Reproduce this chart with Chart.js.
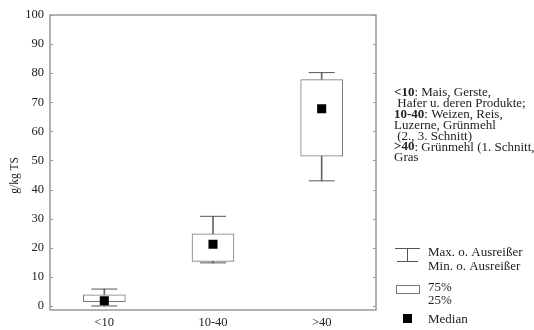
<!DOCTYPE html>
<html>
<head>
<meta charset="utf-8">
<script src="https://cdn.jsdelivr.net/npm/chart.js@4"></script>
<style>
  html, body { margin: 0; padding: 0; background: #fff; }
  #wrap { width: 534px; height: 330px; }
</style>
</head>
<body>
<div id="wrap"><canvas id="boxChart" width="534" height="330"></canvas></div>
<script>
// --- DATA ---
const categories = ['<10', '10-40', '>40'];
const minVals    = [0, 14.8, 43];
const q1Vals     = [1.5, 15.3, 51.5];
const medianVals = [1.8, 21.2, 67.8];
const q3Vals     = [3.8, 24.8, 77.8];
const maxVals    = [5.8, 30.8, 80.2];
const yTicks     = [0, 10, 20, 30, 40, 50, 60, 70, 80, 90, 100];

const noteLines = [
    [['<10', true], [': Mais, Gerste,', false]],
    [[' Hafer u. deren Produkte;', false]],
    [['10-40', true], [': Weizen, Reis,', false]],
    [['Luzerne, Grünmehl', false]],
    [[' (2., 3. Schnitt)', false]],
    [['>40', true], [': Grünmehl (1. Schnitt,', false]],
    [['Gras', false]]
];
const keyLabels = ['Max. o. Ausreißer', 'Min. o. Ausreißer', '75%', '25%', 'Median'];

const SERIF = '"Liberation Serif", "DejaVu Serif", serif';
const TXT = '#222';
const FRAME = '#999';
const LINE = '#777';
const STRETCH = 1.13; // the source text is a bit wide

// text drawn a little stretched, returns the width used
function wideText(ctx, t, x, y) {
    ctx.save();
    ctx.translate(x, y);
    ctx.scale(STRETCH, 1);
    ctx.fillText(t, 0, 0);
    const w = ctx.measureText(t).width * STRETCH;
    ctx.restore();
    return w;
}

// frame, inner ticks, notes and key
const decorPlugin = {
    id: 'decor',
    afterDraw(chart) {
        const ctx = chart.ctx;
        const a = chart.chartArea;
        const y = chart.scales.y;
        ctx.save();
        ctx.strokeStyle = FRAME;
        ctx.lineWidth = 1.5;
        ctx.strokeRect(a.left, a.top, a.right - a.left, a.bottom - a.top);
        ctx.lineWidth = 1;
        yTicks.forEach(v => {
            const py = Math.round(y.getPixelForValue(v)) + 0.5;
            ctx.beginPath();
            ctx.moveTo(a.left, py); ctx.lineTo(a.left + 3, py);
            ctx.moveTo(a.right, py); ctx.lineTo(a.right - 3, py);
            ctx.stroke();
        });

        // notes
        ctx.fillStyle = TXT;
        ctx.textBaseline = 'middle';
        ctx.textAlign = 'left';
        let ny = 93;
        noteLines.forEach(parts => {
            let nx = 394;
            parts.forEach(([t, bold]) => {
                ctx.font = (bold ? 'bold ' : '') + '11.5px ' + SERIF;
                nx += wideText(ctx, t, nx, ny);
            });
            ny += 10.9;
        });

        // key
        ctx.strokeStyle = '#555';
        ctx.lineWidth = 1;
        ctx.beginPath();
        ctx.moveTo(395, 248.5); ctx.lineTo(420, 248.5);
        ctx.moveTo(407.5, 248.5); ctx.lineTo(407.5, 261.5);
        ctx.moveTo(397, 261.5); ctx.lineTo(418, 261.5);
        ctx.stroke();
        ctx.strokeStyle = LINE;
        ctx.strokeRect(396.5, 285.5, 23, 8);
        ctx.fillStyle = '#000';
        ctx.fillRect(403, 314, 9, 9);

        ctx.fillStyle = TXT;
        ctx.font = '11.5px ' + SERIF;
        wideText(ctx, keyLabels[0], 428, 253);
        wideText(ctx, keyLabels[1], 428, 267);
        wideText(ctx, keyLabels[2], 428, 288);
        wideText(ctx, keyLabels[3], 428, 301);
        wideText(ctx, keyLabels[4], 428, 320);
        ctx.restore();
    }
};

new Chart(document.getElementById('boxChart'), {
    type: 'bar',
    data: {
        labels: categories,
        datasets: [
            {
                label: 'upper whisker',
                data: categories.map((c, i) => [q3Vals[i], maxVals[i]]),
                backgroundColor: '#666',
                borderWidth: 0,
                barThickness: 1,
                grouped: false,
                order: 4
            },
            {
                label: 'lower whisker',
                data: categories.map((c, i) => [minVals[i], q1Vals[i]]),
                backgroundColor: '#666',
                borderWidth: 0,
                barThickness: 1,
                grouped: false,
                order: 4
            },
            {
                label: '25-75%',
                data: categories.map((c, i) => [q1Vals[i], q3Vals[i]]),
                backgroundColor: '#fff',
                borderColor: LINE,
                borderWidth: 1,
                borderSkipped: false,
                barThickness: 42,
                grouped: false,
                order: 3
            },
            {
                type: 'line',
                label: 'Max',
                data: maxVals,
                showLine: false,
                pointStyle: 'line',
                pointRadius: 13,
                pointBorderWidth: 1,
                pointBorderColor: '#555',
                order: 2
            },
            {
                type: 'line',
                label: 'Min',
                data: minVals,
                showLine: false,
                pointStyle: 'line',
                pointRadius: 13,
                pointBorderWidth: 1,
                pointBorderColor: '#555',
                order: 2
            },
            {
                type: 'line',
                label: 'Median',
                data: medianVals,
                showLine: false,
                pointStyle: 'rect',
                pointRadius: 6.4,
                pointBackgroundColor: '#000',
                pointBorderColor: '#000',
                pointBorderWidth: 0,
                order: 1
            }
        ]
    },
    options: {
        responsive: false,
        animation: false,
        events: [],
        layout: { padding: { top: 15, right: 158, bottom: 0, left: 0 } },
        plugins: {
            legend: { display: false },
            tooltip: { enabled: false }
        },
        scales: {
            x: {
                offset: true,
                grid: { display: false, drawTicks: false },
                border: { display: false },
                ticks: { color: TXT, font: { family: SERIF, size: 12.5 }, padding: 5 },
                afterFit: s => { s.height = 20; }
            },
            y: {
                min: -1.4,
                max: 100,
                grid: { display: false, drawTicks: false },
                border: { display: false },
                afterBuildTicks: s => { s.ticks = yTicks.map(v => ({ value: v })); },
                ticks: { color: TXT, font: { family: SERIF, size: 12.5 }, padding: 6 },
                title: {
                    display: true,
                    text: 'g/kg TS' + '\u00a0'.repeat(9),
                    color: TXT,
                    font: { family: SERIF, size: 11.5 },
                    padding: { top: 8, bottom: 0 }
                },
                afterFit: s => { s.width = 50; }
            }
        }
    },
    plugins: [decorPlugin]
});
</script>
</body>
</html>
